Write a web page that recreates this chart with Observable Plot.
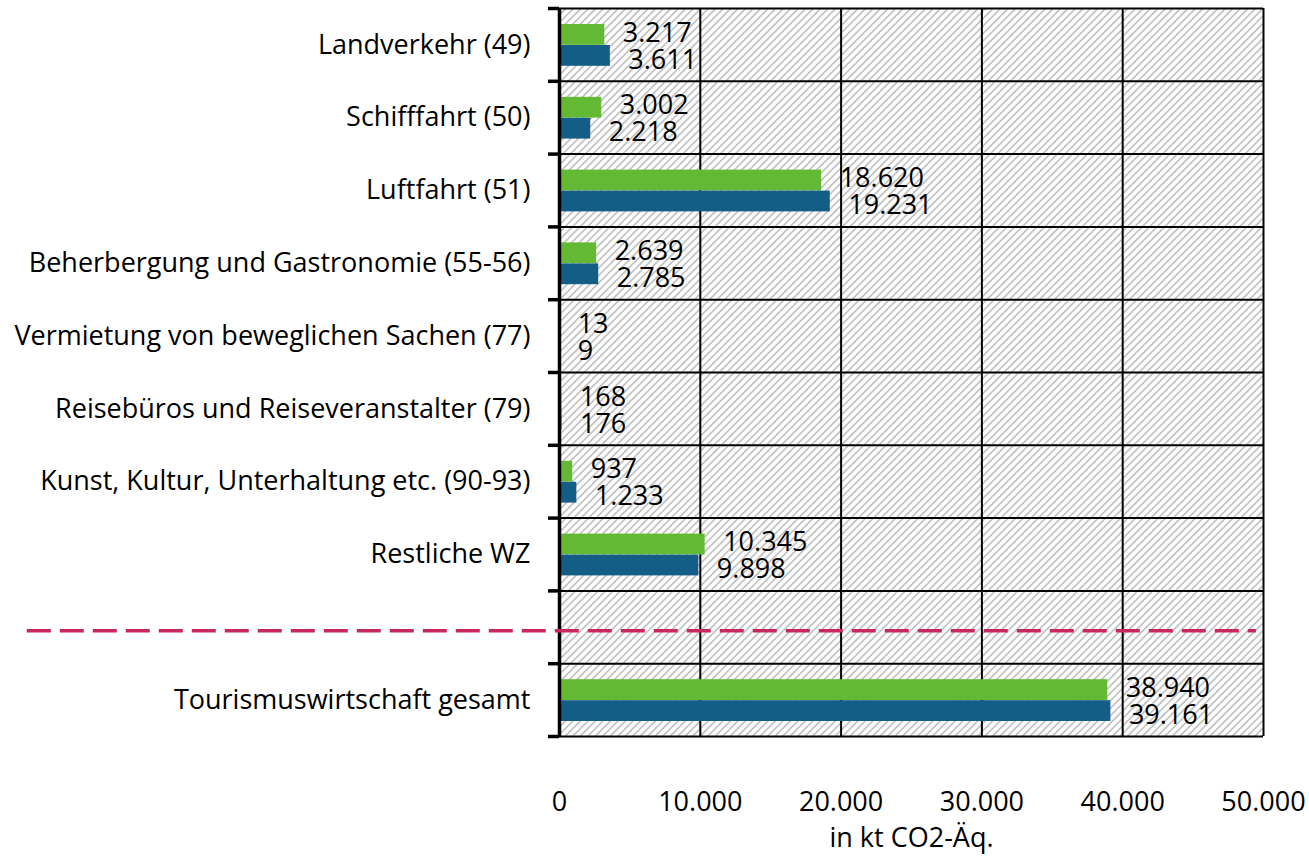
<!DOCTYPE html>
<html><head><meta charset="utf-8">
<script src="https://cdn.jsdelivr.net/npm/d3@7"></script>
<script src="https://cdn.jsdelivr.net/npm/@observablehq/plot@0.6"></script>
<style>body{margin:0;background:#fff} #chart svg{display:block}</style>
</head><body><div id="chart"></div>
<script>
const categories = ["Landverkehr (49)", "Schifffahrt (50)", "Luftfahrt (51)", "Beherbergung und Gastronomie (55-56)", "Vermietung von beweglichen Sachen (77)", "Reisebüros und Reiseveranstalter (79)", "Kunst, Kultur, Unterhaltung etc. (90-93)", "Restliche WZ", "", "Tourismuswirtschaft gesamt"];
const seriesGreen = [3217, 3002, 18620, 2639, 13, 168, 937, 10345, null, 38940];
const seriesBlue = [3611, 2218, 19231, 2785, 9, 176, 1233, 9898, null, 39161];
const xTicks = [0, 10000, 20000, 30000, 40000, 50000];
const xLabel = "in kt CO2-Äq.";

const GREEN = "#63b933", BLUE = "#145d86", DASH = "#c9285c";
const fmt = d3.formatLocale({decimal: ",", thousands: ".", grouping: [3], currency: ["", ""]}).format(",");
const rows = categories.map((c, i) => ({c, i, green: seriesGreen[i], blue: seriesBlue[i]})).filter(d => d.green != null);
const nBands = categories.length;
const FS = 27;

const chart = Plot.plot({
  width: 1309, height: 856,
  marginLeft: 559, marginRight: 46, marginTop: 8, marginBottom: 120,
  style: {fontFamily: "'Open Sans', sans-serif", fontSize: FS + "px", color: "#000", background: "#fff"},
  x: {domain: [0, 50000], axis: null},
  y: {domain: [0, nBands], reverse: true, axis: null},
  marks: [
    Plot.frame({fill: "url(#hatch)"}),
    Plot.ruleX(xTicks.slice(1), {y1: 0, y2: nBands, stroke: "#000", strokeWidth: 2}),
    Plot.ruleY(d3.range(nBands + 1), {x1: 0, x2: 50000, stroke: "#000", strokeWidth: 2}),
    Plot.rect(rows, {x1: 0, x2: "green", y1: "i", y2: d => d.i + 1, insetTop: 16, insetBottom: 36, fill: GREEN}),
    Plot.rect(rows, {x1: 0, x2: "blue", y1: "i", y2: d => d.i + 1, insetTop: 37, insetBottom: 15, fill: BLUE}),
    Plot.ruleX([0], {y1: 0, y2: nBands, stroke: "#000", strokeWidth: 3.5}),
    Plot.ruleY(d3.range(nBands + 1), {x1: -780, x2: 0, stroke: "#000", strokeWidth: 3.5}),
    Plot.ruleY([8.5], {x1: -37800, x2: 49500, dy: 3.5, stroke: DASH, strokeWidth: 3.5, strokeDasharray: "24,9"}),
    Plot.text(rows, {x: "green", y: d => d.i + 0.5, text: d => fmt(d.green), dx: 18, dy: -12, textAnchor: "start", fill: "#000"}),
    Plot.text(rows, {x: "blue", y: d => d.i + 0.5, text: d => fmt(d.blue), dx: 18, dy: 15, textAnchor: "start", fill: "#000"}),
    Plot.text(categories, {x: 0, y: (d, i) => i + 0.5, text: d => d, dx: -29, textAnchor: "end", fill: "#000"}),
    Plot.axisX({ticks: xTicks, tickFormat: fmt, tickSize: 0, tickPadding: 55, label: null, fill: "#000"}),
    Plot.text([xLabel], {frameAnchor: "bottom", dy: 102, lineAnchor: "middle", fill: "#000"})
  ]
});

const svg = d3.select(chart);
const defs = svg.insert("defs", ":first-child");
const s = 5.3;
const p = defs.append("pattern").attr("id", "hatch").attr("patternUnits", "userSpaceOnUse")
  .attr("width", s).attr("height", s).attr("patternTransform", "rotate(45)");
p.append("rect").attr("width", s).attr("height", s).attr("fill", "#fff");
p.append("line").attr("x1", s / 2).attr("y1", 0).attr("x2", s / 2).attr("y2", s).attr("stroke", "#c4c4c4").attr("stroke-width", 1.8);

document.getElementById("chart").appendChild(chart);
</script>
</body></html>
